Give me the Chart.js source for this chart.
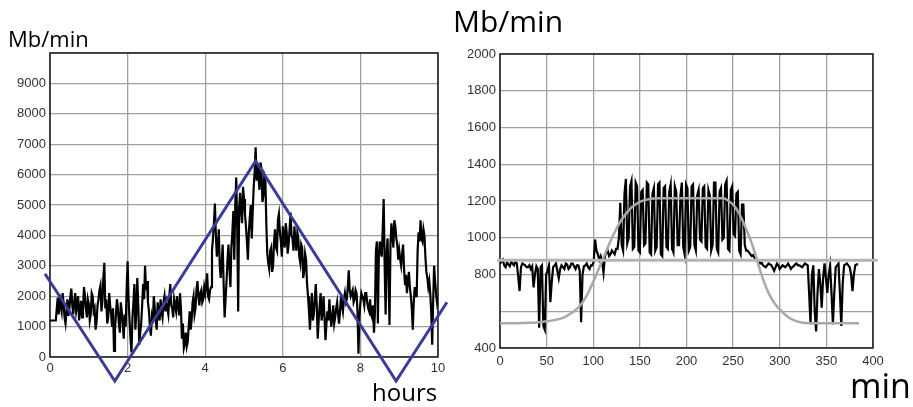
<!DOCTYPE html>
<html>
<head>
<meta charset="utf-8">
<script src="https://cdn.jsdelivr.net/npm/chart.js@4.4.1/dist/chart.umd.min.js"></script>
<style>
  html, body { margin: 0; padding: 0; background: #fff; }
  #wrap { position: relative; width: 913px; height: 407px; overflow: hidden; font-family: "Open Sans", sans-serif; }
  .box { position: absolute; top: 0; height: 407px; }
  .lbl { position: absolute; color: #000; white-space: nowrap; line-height: 1; }
</style>
</head>
<body>
<div id="wrap">
  <div class="box" style="left:0;width:456px"><canvas id="left"></canvas></div>
  <div class="box" style="left:456px;width:457px"><canvas id="right"></canvas></div>
  <div class="lbl" style="left:8px;top:27px;font-size:22px">Mb/min</div>
  <div class="lbl" style="left:453px;top:6px;font-size:30px">Mb/min</div>
  <div class="lbl" style="left:372px;top:380px;font-size:24px">hours</div>
  <div class="lbl" style="left:850px;top:368px;font-size:34px">min</div>
</div>
<script>
// ---- left chart: traffic over 10 hours, one sample every 0.025 h (one row per hour) ----
const LEFT_DT = 0.025;
const leftRate = [
  1200,1200,1200,1200,1200,1200,1200,1600,1950,1400,2050,1700,1500,2100,1750,1300,1100,1500,1900,1350,1600,2000,2250,1700,1400,1800,2100,1500,1700,2000,1200,1550,1850,1300,1500,2300,2000,1600,1300,1900,
  1750,1200,1400,2100,2000,1500,1600,900,1150,1700,1900,2200,2350,1500,1800,2600,3100,1600,1900,1100,1300,2100,1700,1400,1000,1600,200,900,1400,1900,1600,1100,800,1800,1500,1100,600,1400,1000,2200,
  3150,1900,1200,600,150,1300,1800,2400,900,1500,2600,1700,400,800,1100,1700,2400,1900,3000,2200,2500,1800,1500,1000,700,1300,1100,2000,1600,1200,900,1800,1500,1200,1900,1500,1300,1800,2000,1500,
  1800,1600,1400,2000,2400,1700,1600,1300,1900,1700,1500,2000,1700,1400,2100,1600,600,1100,300,450,800,350,500,1000,1500,900,1200,1800,2000,1400,1600,2200,2500,2000,1700,2100,2200,1800,1900,2300,
  2100,2400,2750,2000,1900,2200,2300,3500,3900,4400,5050,4000,3300,3600,4200,3000,2600,3100,3700,2400,1300,1900,2500,3200,3700,2900,2300,3600,4100,4800,3200,5000,5900,4300,1500,4900,5400,4800,4400,5600,
  5200,4700,4300,3800,3200,4100,4600,5000,3900,4800,5600,6100,6900,5800,6350,5900,5500,6400,6200,5100,5300,6000,5900,4400,3400,3100,2900,3500,3600,2800,3000,3800,4200,3600,3500,4500,4700,4100,3800,3300,
  4300,3900,3600,4400,4100,3400,3700,4200,4750,4000,3900,3500,4300,3800,3500,4100,3900,3300,3100,3700,3600,2600,2800,3400,3200,2400,2000,1500,900,1600,2100,1200,1400,1900,2400,1700,600,1200,1700,2100,
  1200,1500,2000,1300,550,1100,1500,1200,1900,1400,1000,1300,1700,1100,1300,1600,1800,1400,1100,1500,2000,1700,1500,1900,2100,1800,1900,2300,2850,2200,2000,2100,2200,1800,1900,2200,2100,1500,110,1300,
  1800,2100,2000,1900,1700,2100,2100,1800,1600,1500,1900,1400,1300,1700,800,1500,3500,3800,1100,3300,3800,3500,3300,4200,5200,3000,1400,3400,3900,2600,1050,3700,4400,4000,3600,4500,4300,3900,3700,3200,
  3500,3200,3000,3400,3700,2900,2400,2700,2100,2500,2800,2300,2000,1600,900,1800,2300,2000,2000,3500,4100,3800,4500,3900,3800,4200,4000,3300,2800,2600,2300,2500,2100,1500,400,1800,3000,2500,2100,1800,
  2000
];
// blue fitted triangle wave (corners)
const blueHours  = [-0.13, 1.67, 5.3, 8.92, 10.23];
const blueValues = [2740, -790, 6450, -790, 1800];
const leftTicksHidden = [10000];

// ---- right chart: traffic over ~385 minutes, one sample every 1.5 min ----
const RIGHT_DT = 1.5;
const rightRate = [
  860,870,880,850,840,865,855,845,870,860,850,870,860,790,710,840,860,855,850,840,
  840,850,830,845,730,800,845,830,510,840,850,520,500,800,820,850,650,760,840,850,
  860,820,780,830,850,840,830,860,855,830,840,860,860,845,830,850,850,820,540,800,
  845,850,860,840,830,850,850,870,990,930,910,880,900,870,810,900,920,930,900,910,
  930,920,910,940,940,1000,1190,960,930,1240,1320,970,1000,1280,1310,940,950,1300,1280,930,
  920,1250,1260,960,970,1300,1290,920,910,1240,1270,930,950,1290,1300,910,900,1270,1280,950,
  940,1250,1290,940,920,1280,1250,960,960,1230,1300,950,910,1290,1270,930,950,1280,1290,960,
  930,1230,1260,990,980,1270,1280,950,940,1260,1230,930,960,1300,1300,940,920,1250,1270,990,
  1000,1290,1310,940,930,1260,1280,1020,1010,1240,1250,930,910,1180,1180,960,930,930,920,910,
  900,905,890,885,880,870,860,865,850,845,840,850,860,855,850,835,820,840,860,850,
  830,840,850,845,840,850,860,845,830,840,845,855,860,850,850,845,840,850,860,855,
  850,700,530,800,850,600,490,700,830,750,620,780,860,780,700,800,850,700,530,700,
  840,850,860,700,520,750,850,855,860,850,840,800,710,800,850,855,855
];
// grey fitted curve, one value every 5 min
const CURVE_DT = 5;
const rightCurve = [
  535,535,535,535,535,536,537,538,540,542,
  545,549,554,560,570,585,603,625,660,705,
  760,820,880,940,1000,1050,1095,1130,1160,1180,
  1195,1205,1210,1213,1215,1215,1215,1215,1215,1215,
  1215,1215,1215,1215,1215,1215,1215,1215,1215,1200,
  1180,1145,1095,1035,970,890,805,735,680,640,
  610,585,565,552,543,538,536,535,535,535,
  535,535,535,535,535,535,535,535
];
// flat grey reference level
const levelMinutes = [-3, 405];
const levelValue = 878;
const rightTicksHidden = [600];

const tickFont = { family: 'Liberation Sans', size: 13 };
const tickColor = '#333';
const gridColor = '#a0a0a0';

// frame around the plot area
const frame = {
  id: 'frame',
  beforeDatasetsDraw(chart) {
    const { ctx, chartArea: a } = chart;
    ctx.save();
    ctx.strokeStyle = '#1a1a1a';
    ctx.lineWidth = 1.5;
    ctx.strokeRect(a.left, a.top, a.right - a.left, a.bottom - a.top);
    ctx.restore();
  }
};

new Chart(document.getElementById('left'), {
  type: 'line',
  data: {
    datasets: [
      {
        data: blueHours.map((h, i) => ({ x: h, y: blueValues[i] })),
        borderColor: '#3b3b98',
        borderWidth: 3,
        pointRadius: 0,
        clip: false,
        order: 0
      },
      {
        data: leftRate.map((v, i) => ({ x: i * LEFT_DT, y: v })),
        borderColor: '#000',
        borderWidth: 2.2,
        pointRadius: 0,
        order: 1
      }
    ]
  },
  options: {
    responsive: true,
    maintainAspectRatio: false,
    animation: false,
    layout: { padding: { top: 53, right: 18, left: 0, bottom: 0 } },
    plugins: { legend: { display: false }, tooltip: { enabled: false } },
    scales: {
      x: {
        type: 'linear', min: 0, max: 10,
        ticks: { stepSize: 2, color: tickColor, font: tickFont, padding: 4 },
        grid: { color: gridColor, lineWidth: 1.3, drawTicks: false },
        border: { display: false },
        afterFit: s => { s.height = 50; }
      },
      y: {
        min: 0, max: 10000,
        ticks: {
          stepSize: 1000, color: tickColor, font: tickFont, padding: 4,
          callback: v => leftTicksHidden.includes(v) ? '' : String(v)
        },
        grid: { color: gridColor, lineWidth: 1.3, drawTicks: false },
        border: { display: false },
        afterFit: s => { s.width = 50; }
      }
    }
  },
  plugins: [frame]
});

new Chart(document.getElementById('right'), {
  type: 'line',
  data: {
    datasets: [
      {
        data: levelMinutes.map(m => ({ x: m, y: levelValue })),
        borderColor: '#b4b4b4',
        borderWidth: 3,
        pointRadius: 0,
        clip: false,
        order: 0
      },
      {
        data: rightCurve.map((v, i) => ({ x: i * CURVE_DT, y: v })),
        borderColor: '#a9a9a9',
        borderWidth: 2.5,
        pointRadius: 0,
        cubicInterpolationMode: 'monotone',
        order: 0
      },
      {
        data: rightRate.map((v, i) => ({ x: i * RIGHT_DT, y: v })),
        borderColor: '#000',
        borderWidth: 2.2,
        pointRadius: 0,
        order: 1
      }
    ]
  },
  options: {
    responsive: true,
    maintainAspectRatio: false,
    animation: false,
    layout: { padding: { top: 54, right: 40, left: 0, bottom: 0 } },
    plugins: { legend: { display: false }, tooltip: { enabled: false } },
    scales: {
      x: {
        type: 'linear', min: 0, max: 400,
        ticks: { stepSize: 50, color: tickColor, font: tickFont, padding: 6 },
        grid: { color: gridColor, lineWidth: 1.3, drawTicks: false },
        border: { display: false },
        afterFit: s => { s.height = 59; }
      },
      y: {
        min: 400, max: 2000,
        ticks: {
          stepSize: 200, color: tickColor, font: tickFont, padding: 4,
          callback: v => rightTicksHidden.includes(v) ? '' : String(v)
        },
        grid: { color: gridColor, lineWidth: 1.3, drawTicks: false },
        border: { display: false },
        afterFit: s => { s.width = 44; }
      }
    }
  },
  plugins: [frame]
});
</script>
</body>
</html>
